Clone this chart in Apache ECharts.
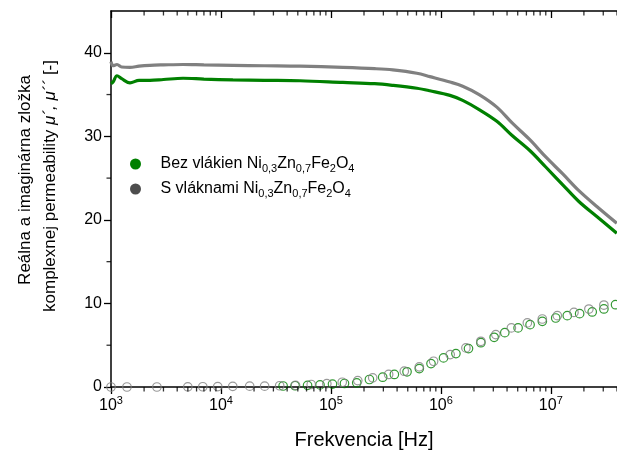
<!DOCTYPE html>
<html>
<head>
<meta charset="utf-8">
<script src="https://cdn.jsdelivr.net/npm/echarts@6/dist/echarts.min.js"></script>
<style>
  html, body { margin: 0; padding: 0; background: #fff; }
  #chart { width: 617px; height: 455px; }
</style>
</head>
<body>
<div id="chart"></div>
<script>
// nazvy vzoriek
var seriesNames = ['Bez vlákien Ni0,3Zn0,7Fe2O4', 'S vláknami Ni0,3Zn0,7Fe2O4'];

// realna zlozka mu' (ciary)
var freqReal = [1000, 1043, 1134, 1250, 1489, 1800, 2262, 3000, 4518, 7000, 12850, 25000, 52300,
    128500, 250000, 366000, 605000, 794000, 1210000, 1580000, 2230000, 3230000, 4450000, 6440000,
    9040000, 12850000, 18000000, 26200000, 39800000];
var realBez = [36.3, 36.5, 37.25, 36.9, 36.4, 36.7, 36.7, 36.8, 36.95, 36.85, 36.75, 36.7, 36.65,
    36.45, 36.3, 36.1, 35.75, 35.45, 34.9, 34.3, 33.2, 31.8, 30.1, 28.3,
    26.3, 24.2, 22.2, 20.4, 18.4];
var realS = [38.95, 38.45, 38.6, 38.3, 38.25, 38.4, 38.5, 38.55, 38.6, 38.55, 38.5, 38.45, 38.4,
    38.25, 38.1, 37.95, 37.55, 37.15, 36.5, 36.0, 35.0, 33.5, 31.6, 29.6,
    27.5, 25.5, 23.5, 21.6, 19.6];

// imaginarna zlozka mu'' (kruzky)
var freqImagBez = [36760, 47210, 61340, 79620, 103400, 132900, 171800, 224000, 295800, 377700, 492500,
    636800, 813600, 1058000, 1371000, 1784000, 2312000, 3052000, 3816000, 5040000, 6478000, 8375000,
    11080000, 14120000, 18290000, 23800000, 30400000, 38800000];
var imagBez = [0.12, 0.15, 0.2, 0.25, 0.35, 0.42, 0.5, 0.9, 1.17, 1.5, 1.82,
    2.2, 2.8, 3.48, 4.0, 4.6, 5.3, 5.95, 6.5, 7.07, 7.46, 7.86,
    8.26, 8.54, 8.78, 8.98, 9.34, 9.85];
var freqImagS = [1000, 1397, 2615, 4995, 6836, 9350, 12800, 18250, 24960, 34200, 47700, 66200, 91800,
    126800, 175500, 240000, 335000, 465000, 637000, 859000, 1216000, 1690000, 2310000, 3160000,
    4380000, 6120000, 8370000, 11460000, 16240000, 22200000, 30400000];
var imagS = [0, 0, 0, 0.02, 0.03, 0.05, 0.08, 0.1, 0.1, 0.15, 0.2, 0.3, 0.4,
    0.57, 0.77, 1.1, 1.5, 1.89, 2.41, 3.08, 3.88, 4.68, 5.47, 6.27,
    7.07, 7.67, 8.14, 8.54, 8.93, 9.33, 9.81];

// osi
var xMajor = [1e3, 1e4, 1e5, 1e6, 1e7];
var xMinorMult = [2, 3, 4, 5, 6, 7, 8, 9];
var yMajor = [0, 10, 20, 30, 40];
var yMinor = [5, 15, 25, 35];
var xMin = 1000, xMax = 4e7, yMin = 0, yMax = 45;

var xMinor = [];
xMajor.forEach(function (d) {
    xMinorMult.forEach(function (m) {
        if (d * m <= xMax) xMinor.push(d * m);
    });
});

var zip = function (xs, ys) {
    return xs.map(function (x, i) { return [x, ys[i]]; });
};

var FONT = '"Liberation Sans", Arial, sans-serif';
var GREEN = '#008000';
var GRAY = '#808080';

var myChart = echarts.init(document.getElementById('chart'));

var axisLine = { show: true, onZero: false, lineStyle: { color: '#000', width: 1.5 } };
var tickStyle = { color: '#000', width: 1.3 };

// vedlajsie dielky ako male obdlzniky (log os ich nerobi na 2..9)
var minorTickSeries = function (data, size, offset) {
    return {
        type: 'scatter', silent: true, clip: false, z: 10,
        data: data, symbol: 'rect', symbolSize: size, symbolOffset: offset,
        itemStyle: { color: '#000' }
    };
};

var legendRich = {
    p: { width: 10 },
    a: { fontSize: 16, fontFamily: FONT, color: '#000', lineHeight: 20 },
    s: { fontSize: 11, fontFamily: FONT, color: '#000', lineHeight: 11, verticalAlign: 'bottom' }
};
var legendText = function (name) {
    var head = name === seriesNames[0] ? 'Bez vlákien Ni' : 'S vláknami Ni';
    return '{p| }{a|' + head + '}{s|0,3}{a|Zn}{s|0,7}{a|Fe}{s|2}{a|O}{s|4}';
};

var option = {
    animation: false,
    backgroundColor: '#fff',
    grid: { left: 111, right: 0, top: 11, bottom: 68 },
    legend: {
        orient: 'vertical',
        left: 125,
        top: 151,
        itemWidth: 20,
        itemHeight: 11,
        itemGap: 7,
        selectedMode: false,
        data: [
            { name: seriesNames[0], icon: 'circle', itemStyle: { color: GREEN, borderWidth: 0 } },
            { name: seriesNames[1], icon: 'circle', itemStyle: { color: '#4d4d4d', borderWidth: 0 } }
        ],
        formatter: legendText,
        textStyle: { rich: legendRich }
    },
    xAxis: [
        {
            type: 'log', logBase: 10, position: 'bottom', min: xMin, max: xMax,
            axisLine: axisLine,
            axisTick: { show: true, inside: false, length: 7, customValues: xMajor, lineStyle: tickStyle },
            axisLabel: {
                customValues: xMajor, margin: 8,
                formatter: function (v) {
                    return '{b|10}{s|' + Math.round(Math.log10(v)) + '}';
                },
                rich: {
                    b: { fontSize: 16, fontFamily: FONT, color: '#000', lineHeight: 22 },
                    s: { fontSize: 11, fontFamily: FONT, color: '#000', lineHeight: 12, verticalAlign: 'top' }
                }
            },
            splitLine: { show: false },
            name: 'Frekvencia [Hz]',
            nameLocation: 'middle',
            nameGap: 43,
            nameTextStyle: { fontSize: 20, fontFamily: FONT, color: '#000' }
        },
        {
            type: 'log', logBase: 10, position: 'top', min: xMin, max: xMax,
            axisLine: axisLine,
            axisTick: { show: true, inside: true, length: 7, customValues: xMajor, lineStyle: tickStyle },
            axisLabel: { show: false },
            splitLine: { show: false }
        }
    ],
    yAxis: {
        type: 'value', min: yMin, max: yMax,
        axisLine: axisLine,
        axisTick: { show: true, inside: false, length: 7, customValues: yMajor, lineStyle: tickStyle },
        axisLabel: { customValues: yMajor, margin: 9, fontSize: 16, fontFamily: FONT, color: '#000' },
        splitLine: { show: false }
    },
    graphic: [
        {
            type: 'text', x: 25, y: 180, rotation: Math.PI / 2,
            style: {
                text: 'Reálna a imaginárna zložka',
                fontSize: 17, fontFamily: FONT, fill: '#000',
                align: 'center', verticalAlign: 'middle'
            }
        },
        {
            type: 'text', x: 50, y: 186, rotation: Math.PI / 2,
            style: {
                text: '{a|komplexnej permeability }{i|μ´, μ´´}{a| [-]}',
                rich: {
                    a: { fontSize: 17, fontFamily: FONT, fill: '#000' },
                    i: { fontSize: 17, fontFamily: FONT, fontStyle: 'italic', fill: '#000' }
                },
                align: 'center', verticalAlign: 'middle'
            }
        }
    ],
    series: [
        {
            name: seriesNames[0], type: 'line',
            data: zip(freqReal, realBez),
            showSymbol: false, smooth: 0.35,
            lineStyle: { color: GREEN, width: 3.2 }, itemStyle: { color: GREEN }
        },
        {
            name: seriesNames[1], type: 'line',
            data: zip(freqReal, realS),
            showSymbol: false, smooth: 0.35,
            lineStyle: { color: GRAY, width: 3.2 }, itemStyle: { color: GRAY }
        },
        {
            name: seriesNames[0], type: 'scatter',
            data: zip(freqImagBez, imagBez),
            symbol: 'circle', symbolSize: 8.5,
            itemStyle: { color: 'rgba(255,255,255,0)', borderColor: GREEN, borderWidth: 1.2 }
        },
        {
            name: seriesNames[1], type: 'scatter',
            data: zip(freqImagS, imagS),
            symbol: 'circle', symbolSize: 8.5,
            itemStyle: { color: 'rgba(255,255,255,0)', borderColor: GRAY, borderWidth: 1.2 }
        },
        // dolna os: dielky smerom von
        minorTickSeries(xMinor.map(function (v) { return [v, yMin]; }), [1.3, 4.5], [0, 2.25]),
        // horna os: dielky smerom dnu
        minorTickSeries(xMinor.map(function (v) { return [v, yMax]; }), [1.3, 4.5], [0, 2.25]),
        // lava os
        minorTickSeries(yMinor.map(function (v) { return [xMin, v]; }), [4.5, 1.3], [-2.25, 0])
    ]
};

myChart.setOption(option);
</script>
</body>
</html>
